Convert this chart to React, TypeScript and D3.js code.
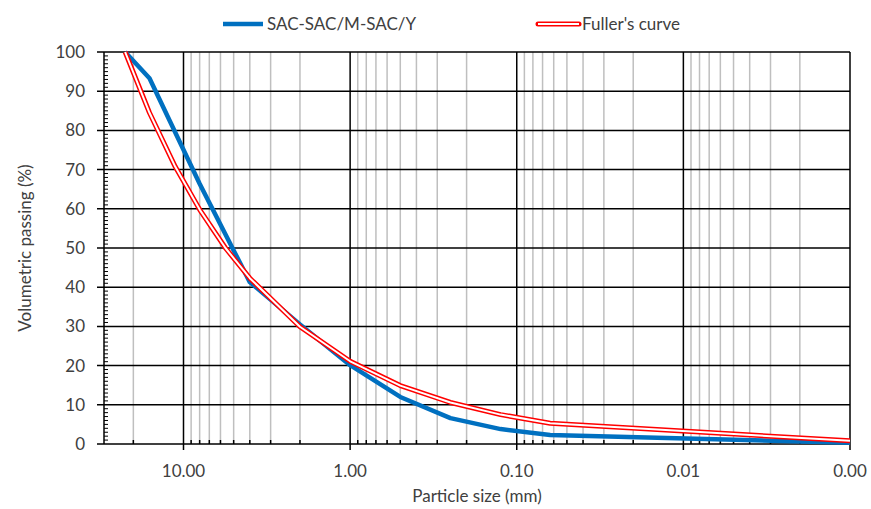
import React from "react";
import * as d3 from "d3";

// Particle sizes (mm) and passing (%)
const sacSizes = [22.4, 16, 8, 4, 2, 1, 0.5, 0.25, 0.125, 0.063, 0.001];
const sacPassing = [100, 93.3, 66.4, 41.3, 30.5, 20.1, 12, 6.6, 3.8, 2.3, 0.3];
const fullerSizes = [22.4, 16, 11.2, 8, 5.6, 4, 2, 1, 0.5, 0.25, 0.125, 0.063, 0.001];
const fullerPassing = [100, 84.5, 70.7, 59.8, 50, 42.3, 29.9, 21.1, 14.9, 10.6, 7.5, 5.3, 0.8];
const xMajorTicks = [10, 1, 0.1, 0.01, 0.001];
const xTickLabels = ["10.00", "1.00", "0.10", "0.01", "0.00"];
const yMajorTicks = [0, 10, 20, 30, 40, 50, 60, 70, 80, 90, 100];
const seriesNames = ["SAC-SAC/M-SAC/Y", "Fuller's curve"];

const W = 871;
const H = 509;
const FONT = "Lato, 'Open Sans', sans-serif";

export default function App() {
  const x = d3.scaleLog().domain([30, 0.001]).range([104, 850]);
  const y = d3.scaleLinear().domain([0, 100]).range([444, 52]);

  const minor: number[] = [];
  for (let e = -3; e <= 1; e++) {
    for (let k = 2; k <= 9; k++) {
      const v = k * Math.pow(10, e);
      if (v < 30) minor.push(v);
    }
  }
  const yMinor: number[] = d3.range(0, 101, 1).filter((v) => v % 10 !== 0);

  const line = d3
    .line<[number, number]>()
    .x((d) => x(d[0]))
    .y((d) => y(d[1]));

  const sacData: [number, number][] = sacSizes.map((s, i) => [s, sacPassing[i]]);
  const fullerData: [number, number][] = fullerSizes.map((s, i) => [s, fullerPassing[i]]);

  const [x0, x1] = x.range();
  const [yb, yt] = y.range();

  return (
    <svg
      width={W}
      height={H}
      style={{ position: "absolute", left: 0, top: 0, background: "#fff" }}
      fontFamily={FONT}
    >
      <rect x={0} y={0} width={W} height={H} fill="#fff" />
      {/* minor vertical gridlines */}
      {minor.map((v) => (
        <line key={"mg" + v} x1={x(v)} x2={x(v)} y1={yt} y2={yb} stroke="#BFBFBF" strokeWidth={1.5} />
      ))}
      {/* minor x ticks (inside) */}
      {minor.map((v) => (
        <line key={"mt" + v} x1={x(v)} x2={x(v)} y1={yb} y2={yb - 4} stroke="#000" strokeWidth={1.5} />
      ))}
      {/* horizontal major gridlines */}
      {yMajorTicks.map((v) => (
        <line key={"hg" + v} x1={x0 - 7} x2={x1} y1={y(v)} y2={y(v)} stroke="#000" strokeWidth={1.5} />
      ))}
      {/* y minor ticks */}
      {yMinor.map((v) => (
        <line key={"ym" + v} x1={x0} x2={x0 + 4} y1={y(v)} y2={y(v)} stroke="#000" strokeWidth={1} />
      ))}
      {/* vertical major gridlines */}
      {xMajorTicks.map((v) => (
        <line key={"vg" + v} x1={x(v)} x2={x(v)} y1={yt} y2={yb + 6} stroke="#000" strokeWidth={1.5} />
      ))}
      {/* y axis line */}
      <line x1={x0} x2={x0} y1={yt} y2={yb} stroke="#000" strokeWidth={1.5} />

      {/* series */}
      <path d={line(sacData) || ""} fill="none" stroke="#0070C0" strokeWidth={4.5} strokeLinejoin="round" />
      <path d={line(fullerData) || ""} fill="none" stroke="#FF0000" strokeWidth={5} strokeLinejoin="round" />
      <path d={line(fullerData) || ""} fill="none" stroke="#FFFFFF" strokeWidth={2} strokeLinejoin="round" />

      {/* y tick labels */}
      {yMajorTicks.map((v) => (
        <text key={"yl" + v} x={85} y={y(v)} dy="0.35em" textAnchor="end" fontSize={17} fill="#404040">
          {v}
        </text>
      ))}
      {/* x tick labels */}
      {xMajorTicks.map((v, i) => (
        <text key={"xl" + v} x={x(v)} y={477} textAnchor="middle" fontSize={17} fill="#404040">
          {xTickLabels[i]}
        </text>
      ))}
      {/* axis titles */}
      <text x={(x0 + x1) / 2} y={502} textAnchor="middle" fontSize={17} fill="#404040">
        Particle size (mm)
      </text>
      <text
        transform={`translate(31,${(yt + yb) / 2}) rotate(-90)`}
        textAnchor="middle"
        fontSize={17}
        fill="#404040"
      >
        Volumetric passing (%)
      </text>

      {/* legend */}
      <line x1={223} x2={263} y1={24} y2={24} stroke="#0070C0" strokeWidth={4.5} />
      <text x={267} y={24} dy="0.35em" fontSize={17} fill="#404040">
        {seriesNames[0]}
      </text>
      <line x1={538} x2={579} y1={24} y2={24} stroke="#FF0000" strokeWidth={5} strokeLinecap="round" />
      <line x1={538} x2={579} y1={24} y2={24} stroke="#FFFFFF" strokeWidth={2} />
      <text x={582} y={24} dy="0.35em" fontSize={17} fill="#404040">
        {seriesNames[1]}
      </text>
    </svg>
  );
}
